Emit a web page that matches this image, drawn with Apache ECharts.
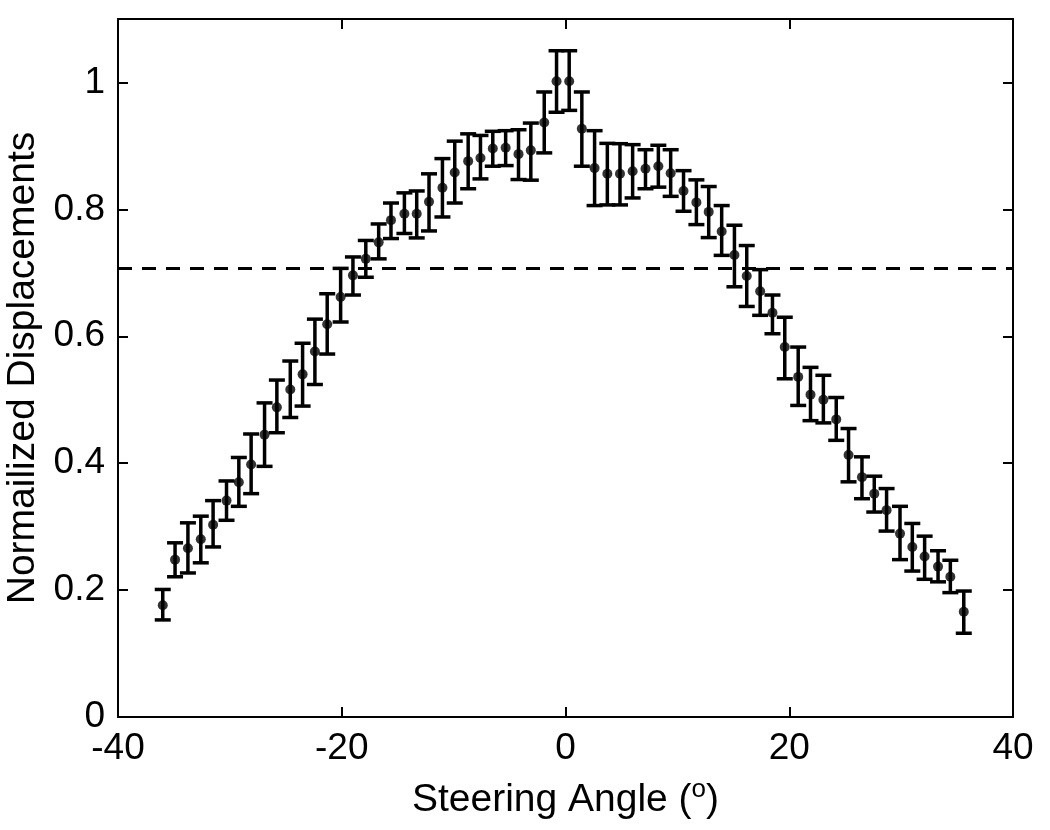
<!DOCTYPE html>
<html>
<head>
<meta charset="utf-8">
<script src="https://cdn.jsdelivr.net/npm/echarts@6/dist/echarts.min.js"></script>
<style>
html,body{margin:0;padding:0;background:#fff;}
#chart{width:1050px;height:830px;}
</style>
</head>
<body>
<div id="chart"></div>
<script>
// Steering angle (degrees) of each measurement
const angles = [-36.0, -34.9, -33.75, -32.6, -31.5, -30.3, -29.2, -28.1, -26.9, -25.8,
  -24.6, -23.5, -22.4, -21.3, -20.1, -19.0, -17.85, -16.7, -15.6, -14.4,
  -13.3, -12.2, -11.0, -9.9, -8.7, -7.6, -6.5, -5.35, -4.2, -3.1,
  -1.9, -0.8, 0.33, 1.46, 2.6, 3.74, 4.87, 6.0, 7.15, 8.3,
  9.4, 10.55, 11.7, 12.8, 13.96, 15.1, 16.2, 17.4, 18.5, 19.6,
  20.8, 21.9, 23.05, 24.2, 25.3, 26.5, 27.6, 28.7, 29.9, 31.0,
  32.1, 33.3, 34.4, 35.6];
// Mean normalized displacement
const means = [0.176, 0.248, 0.266, 0.280, 0.303, 0.341, 0.370, 0.398, 0.445, 0.488,
  0.516, 0.540, 0.576, 0.619, 0.662, 0.696, 0.722, 0.748, 0.783, 0.793,
  0.793, 0.812, 0.834, 0.858, 0.876, 0.881, 0.896, 0.897, 0.887, 0.893,
  0.937, 1.002, 1.002, 0.927, 0.865, 0.856, 0.856, 0.860, 0.864, 0.868,
  0.857, 0.829, 0.811, 0.796, 0.765, 0.728, 0.695, 0.671, 0.637, 0.583,
  0.536, 0.508, 0.500, 0.469, 0.413, 0.378, 0.352, 0.326, 0.289, 0.268,
  0.253, 0.237, 0.221, 0.166];
// Upper end of error bars
const upper = [0.201, 0.2745, 0.306, 0.3165, 0.341, 0.372, 0.409, 0.446, 0.495, 0.531,
  0.561, 0.589, 0.627, 0.667, 0.707, 0.725, 0.751, 0.777, 0.810, 0.826,
  0.829, 0.856, 0.880, 0.9075, 0.919, 0.9165, 0.923, 0.924, 0.9255, 0.936,
  0.985, 1.050, 1.050, 0.985, 0.924, 0.904, 0.9035, 0.902, 0.894, 0.901,
  0.894, 0.861, 0.8465, 0.836, 0.806, 0.775, 0.743, 0.705, 0.665, 0.630,
  0.583, 0.551, 0.5385, 0.5035, 0.4546, 0.410, 0.3795, 0.360, 0.332, 0.305,
  0.285, 0.262, 0.247, 0.1985];
// Lower end of error bars
const lower = [0.153, 0.221, 0.227, 0.243, 0.268, 0.310, 0.332, 0.352, 0.395, 0.448,
  0.472, 0.490, 0.524, 0.572, 0.6225, 0.665, 0.693, 0.722, 0.754, 0.762,
  0.755, 0.766, 0.788, 0.810, 0.8325, 0.848, 0.868, 0.869, 0.847, 0.846,
  0.889, 0.953, 0.956, 0.868, 0.806, 0.807, 0.807, 0.818, 0.8325, 0.835,
  0.8205, 0.797, 0.776, 0.7555, 0.7275, 0.678, 0.647, 0.633, 0.604, 0.533,
  0.491, 0.467, 0.4635, 0.436, 0.3706, 0.344, 0.323, 0.293, 0.248, 0.230,
  0.217, 0.213, 0.196, 0.132];
// -3 dB threshold line
const threshold = 0.707;
const xTicks = [-40, -20, 0, 20, 40];
const yTicks = [0, 0.2, 0.4, 0.6, 0.8, 1];

const FONT = "'Liberation Sans', Arial, Helvetica, sans-serif";
const chart = echarts.init(document.getElementById('chart'), null, {renderer: 'canvas'});

const pointData = angles.map((a, i) => [a, means[i]]);
const barData = angles.map((a, i) => [a, lower[i], upper[i]]);

function isTick(list, v) {
  return list.some(t => Math.abs(t - v) < 1e-6);
}

const commonTick = {show: true, inside: true, length: 10, lineStyle: {color: '#000', width: 2}};
const lineStyleAxis = {color: '#000', width: 2};

const option = {
  backgroundColor: '#fff',
  animation: false,
  grid: {left: 118, right: 37, top: 19, bottom: 113, containLabel: false, outerBoundsMode: 'none'},
  xAxis: [{
    type: 'value', min: -40, max: 40, interval: 20, position: 'bottom',
    axisLine: {show: true, onZero: false, lineStyle: lineStyleAxis},
    axisTick: commonTick,
    splitLine: {show: false},
    axisLabel: {color: '#000', fontFamily: FONT, fontSize: 37, margin: 13,
      formatter: v => isTick(xTicks, v) ? String(v) : ''},
    name: 'Steering Angle ({sup|o})',
    nameLocation: 'middle', nameGap: 60,
    nameTextStyle: {color: '#000', fontFamily: FONT, fontSize: 39,
      rich: {sup: {fontFamily: FONT, fontSize: 26, color: '#000', padding: [0, 0, 20, 0]}}}
  }, {
    type: 'value', min: -40, max: 40, interval: 20, position: 'top',
    axisLine: {show: true, onZero: false, lineStyle: lineStyleAxis},
    axisTick: commonTick,
    splitLine: {show: false},
    axisLabel: {show: false}
  }],
  yAxis: [{
    type: 'value', min: 0, max: 1.1, interval: 0.2, position: 'left',
    axisLine: {show: true, onZero: false, lineStyle: lineStyleAxis},
    axisTick: commonTick,
    splitLine: {show: false},
    axisLabel: {color: '#000', fontFamily: FONT, fontSize: 37, margin: 13,
      showMaxLabel: false,
      formatter: v => isTick(yTicks, v) ? String(+v.toFixed(1)) : ''},
    name: 'Normailized Displacements',
    nameLocation: 'middle', nameGap: 64, nameRotate: 90,
    nameTextStyle: {color: '#000', fontFamily: FONT, fontSize: 39}
  }, {
    type: 'value', min: 0, max: 1.1, interval: 0.2, position: 'right',
    axisLine: {show: true, onZero: false, lineStyle: lineStyleAxis},
    axisTick: commonTick,
    splitLine: {show: false},
    axisLabel: {show: false}
  }],
  series: [{
    type: 'line',
    xAxisIndex: 0, yAxisIndex: 0,
    data: [[xTicks[0], threshold], [xTicks[xTicks.length - 1], threshold]],
    symbol: 'none',
    lineStyle: {color: '#000', width: 3, type: [14, 10]},
    z: 1
  }, {
    type: 'custom',
    xAxisIndex: 0, yAxisIndex: 0,
    data: barData,
    renderItem: function (params, api) {
      const x = api.value(0);
      const lo = api.coord([x, api.value(1)]);
      const hi = api.coord([x, api.value(2)]);
      const hw = 8;
      const st = {stroke: '#000', lineWidth: 3.5};
      return {
        type: 'group',
        children: [
          {type: 'line', shape: {x1: hi[0], y1: hi[1], x2: lo[0], y2: lo[1]}, style: st},
          {type: 'line', shape: {x1: hi[0] - hw, y1: hi[1], x2: hi[0] + hw, y2: hi[1]}, style: st},
          {type: 'line', shape: {x1: lo[0] - hw, y1: lo[1], x2: lo[0] + hw, y2: lo[1]}, style: st}
        ]
      };
    },
    z: 2
  }, {
    type: 'scatter',
    xAxisIndex: 0, yAxisIndex: 0,
    data: pointData,
    symbol: 'circle',
    symbolSize: 10,
    itemStyle: {color: '#000'},
    z: 3
  }]
};
chart.setOption(option);
</script>
</body>
</html>
